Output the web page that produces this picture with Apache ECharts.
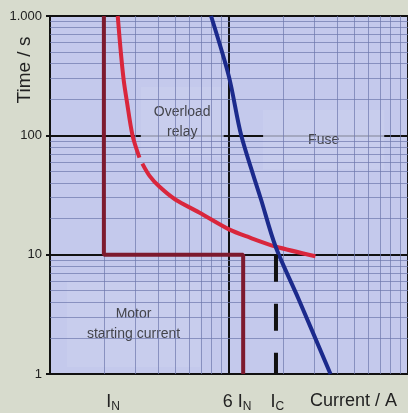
<!DOCTYPE html>
<html>
<head>
<meta charset="utf-8">
<script src="https://cdn.jsdelivr.net/npm/echarts@6/dist/echarts.min.js"></script>
<style>
  html, body { margin: 0; padding: 0; background: #d7dbcd; }
  #chart { width: 408px; height: 413px; }
</style>
</head>
<body>
<div id="chart"></div>
<script>
  // x: current (log), y: time in s (log)
  const minorX = [2, 3, 4, 5, 6, 7, 8, 9, 20, 30, 40, 50, 60, 70, 80, 90]
  const minorY = [2, 3, 4, 5, 6, 7, 8, 9, 20, 30, 40, 50, 60, 70, 80, 90, 200, 300, 400, 500, 600, 700, 800, 900]

  // x label positions and texts
  const xLabelVals = [2.25, 11.1, 18.6, 49.6]
  const xLabelTexts = ['I{s|N}', '6 I{s|N}', 'I{s|C}', 'Current / A']

  // motor starting current (maroon step)
  const motorX = [2, 2, 12, 12]
  const motorY = [1000, 10, 10, 1]

  // overload relay curve (null = small break in the printed line)
  const relayX = [2.39, 2.48, 2.58, 2.68, 2.89, 3.16, null, 3.28, 3.59, 4.08, 5.01, 6.81, 10, 12.9, 18.2, 30.4]
  const relayY = [1000, 519, 291, 198, 100, 65, null, 57.9, 46, 37.2, 29, 22.6, 16.3, 14.0, 11.7, 9.7]

  // fuse curve
  const fuseX = [7.94, 10, 11.7, 15.1, 18.2, 24.5, 36.9]
  const fuseY = [1000, 309, 100, 29, 11.7, 4.23, 1]

  // I_C marker
  const icX = [18.3, 18.3]
  const icY = [10, 1]

  // region labels
  const regionNames = ['Overload\nrelay', 'Fuse', 'Motor\nstarting current']
  const regionX = [5.48, 33.8, 2.93]
  const regionY = [130, 92, 2.62]
  const regionPad = [[15, 13], [20, 45], [23, 20]]

  const zip = (xs, ys) => xs.map((x, i) => (x === null ? [null, null] : [x, ys[i]]))

  const chart = echarts.init(document.getElementById('chart'))
  chart.setOption({
    backgroundColor: '#d7dbcd',
    animation: false,
    grid: { left: 50, right: -2, top: 16, bottom: 38, show: true, backgroundColor: '#c4c9ec', borderWidth: 0 },
    xAxis: {
      type: 'log', logBase: 10, min: 1, max: 100,
      axisLine: { show: true, onZero: false, lineStyle: { color: '#111', width: 2 } },
      axisTick: { show: false },
      splitLine: { show: true, lineStyle: { color: '#111', width: 2 } },
      axisLabel: {
        customValues: xLabelVals,
        margin: 18,
        color: '#222',
        fontFamily: 'Liberation Sans, Arial',
        fontSize: 18,
        formatter: (v) => {
          const i = xLabelVals.findIndex(x => Math.abs(x - v) < 1e-6)
          return i >= 0 ? xLabelTexts[i] : ''
        },
        rich: {
          s: { fontSize: 12, fontFamily: 'Liberation Sans, Arial', color: '#222', verticalAlign: 'bottom', padding: [9, 0, 0, 0] }
        }
      }
    },
    yAxis: {
      type: 'log', logBase: 10, min: 1, max: 1000,
      axisLine: { show: true, lineStyle: { color: '#111', width: 2 } },
      axisTick: { show: true, length: 4, lineStyle: { color: '#111', width: 2 } },
      splitLine: { show: true, lineStyle: { color: '#111', width: 2 } },
      axisLabel: {
        margin: 8,
        color: '#222',
        fontFamily: 'Liberation Sans, Arial',
        fontSize: 13,
        formatter: (v) => (v === 1000 ? '1.000' : String(v))
      }
    },
    graphic: [{
      type: 'text', x: 25, y: 70, rotation: Math.PI / 2,
      style: { text: 'Time / s', fontSize: 19, fontFamily: 'Liberation Sans, Arial', fill: '#222', align: 'center', verticalAlign: 'middle' }
    }],
    series: [
      {
        type: 'line', data: [], z: 1, silent: true,
        markLine: {
          silent: true, symbol: 'none', animation: false,
          label: { show: false },
          lineStyle: { color: '#6e78ac', width: 1, type: 'solid', opacity: 0.7 },
          data: minorX.map(v => ({ xAxis: v })).concat(minorY.map(v => ({ yAxis: v })))
        }
      },
      {
        type: 'scatter', z: 3, silent: true, symbolSize: 0,
        data: regionNames.map((n, i) => ({
          value: [regionX[i], regionY[i]], name: n,
          label: { padding: regionPad[i] }
        })),
        label: {
          show: true, position: 'inside', formatter: (p) => p.name,
          color: '#222', fontSize: 14, lineHeight: 20, fontFamily: 'Liberation Sans, Arial',
          backgroundColor: '#c9ceee'
        }
      },
      {
        type: 'line', z: 5, data: zip(motorX, motorY), symbol: 'none',
        lineStyle: { color: '#7d1a2e', width: 4 }
      },
      {
        type: 'line', z: 6, data: zip(relayX, relayY), symbol: 'none', smooth: 0.3, connectNulls: false,
        lineStyle: { color: '#d9263c', width: 4 }
      },
      {
        type: 'line', z: 7, data: zip(fuseX, fuseY), symbol: 'none', smooth: 0.3,
        lineStyle: { color: '#1b2a8c', width: 4 }
      },
      {
        type: 'line', z: 7, data: zip(icX, icY), symbol: 'none',
        lineStyle: { color: '#111', width: 4, type: [27, 22] }
      }
    ]
  })
</script>
</body>
</html>
